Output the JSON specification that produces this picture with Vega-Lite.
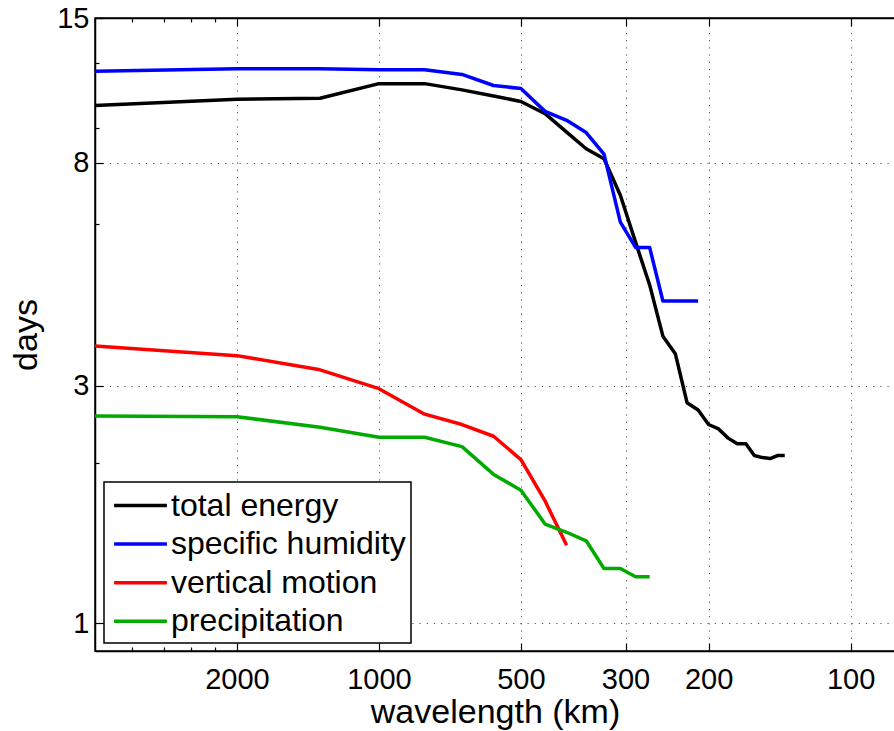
{
  "$schema": "https://vega.github.io/schema/vega-lite/v6.json",
  "autosize": "none",
  "padding": {"left": 95, "top": 18, "right": 0, "bottom": 80},
  "width": 800,
  "height": 633,
  "background": "white",
  "config": {
    "font": "Liberation Sans",
    "view": {"stroke": "black", "strokeWidth": 1.5},
    "axis": {
      "labelFont": "Liberation Sans",
      "titleFont": "Liberation Sans",
      "labelColor": "black",
      "titleColor": "black",
      "titleFontWeight": "normal",
      "domainColor": "black",
      "domainWidth": 1.5,
      "tickColor": "black",
      "tickWidth": 1.2,
      "gridColor": "#555555",
      "gridDash": [1.2, 6],
      "gridWidth": 1
    }
  },
  "data": {
    "values": [
      {"v": "total energy", "wl": 4000, "d": 10.27},
      {"v": "total energy", "wl": 2000, "d": 10.55},
      {"v": "total energy", "wl": 1333.3, "d": 10.60},
      {"v": "total energy", "wl": 1000, "d": 11.29},
      {"v": "total energy", "wl": 800, "d": 11.29},
      {"v": "total energy", "wl": 666.7, "d": 10.99},
      {"v": "total energy", "wl": 571.4, "d": 10.70},
      {"v": "total energy", "wl": 500, "d": 10.45},
      {"v": "total energy", "wl": 444.4, "d": 9.91},
      {"v": "total energy", "wl": 400, "d": 9.15},
      {"v": "total energy", "wl": 363.6, "d": 8.51},
      {"v": "total energy", "wl": 333.3, "d": 8.15},
      {"v": "total energy", "wl": 307.7, "d": 6.95},
      {"v": "total energy", "wl": 285.7, "d": 5.66},
      {"v": "total energy", "wl": 266.7, "d": 4.69},
      {"v": "total energy", "wl": 250, "d": 3.74},
      {"v": "total energy", "wl": 235.3, "d": 3.46},
      {"v": "total energy", "wl": 222.2, "d": 2.78},
      {"v": "total energy", "wl": 210.5, "d": 2.69},
      {"v": "total energy", "wl": 200, "d": 2.52},
      {"v": "total energy", "wl": 190.5, "d": 2.47},
      {"v": "total energy", "wl": 181.8, "d": 2.37},
      {"v": "total energy", "wl": 173.9, "d": 2.31},
      {"v": "total energy", "wl": 166.7, "d": 2.31},
      {"v": "total energy", "wl": 160, "d": 2.19},
      {"v": "total energy", "wl": 153.8, "d": 2.17},
      {"v": "total energy", "wl": 148.1, "d": 2.16},
      {"v": "total energy", "wl": 142.9, "d": 2.19},
      {"v": "total energy", "wl": 137.9, "d": 2.19},
      {"v": "specific humidity", "wl": 4000, "d": 11.91},
      {"v": "specific humidity", "wl": 2000, "d": 12.04},
      {"v": "specific humidity", "wl": 1333.3, "d": 12.04},
      {"v": "specific humidity", "wl": 1000, "d": 11.99},
      {"v": "specific humidity", "wl": 800, "d": 11.99},
      {"v": "specific humidity", "wl": 666.7, "d": 11.75},
      {"v": "specific humidity", "wl": 571.4, "d": 11.20},
      {"v": "specific humidity", "wl": 500, "d": 11.05},
      {"v": "specific humidity", "wl": 444.4, "d": 10.01},
      {"v": "specific humidity", "wl": 400, "d": 9.63},
      {"v": "specific humidity", "wl": 363.6, "d": 9.13},
      {"v": "specific humidity", "wl": 333.3, "d": 8.31},
      {"v": "specific humidity", "wl": 307.7, "d": 6.18},
      {"v": "specific humidity", "wl": 285.7, "d": 5.53},
      {"v": "specific humidity", "wl": 266.7, "d": 5.53},
      {"v": "specific humidity", "wl": 250, "d": 4.37},
      {"v": "specific humidity", "wl": 235.3, "d": 4.37},
      {"v": "specific humidity", "wl": 222.2, "d": 4.37},
      {"v": "specific humidity", "wl": 210.5, "d": 4.37},
      {"v": "vertical motion", "wl": 4000, "d": 3.58},
      {"v": "vertical motion", "wl": 2000, "d": 3.43},
      {"v": "vertical motion", "wl": 1333.3, "d": 3.22},
      {"v": "vertical motion", "wl": 1000, "d": 2.96},
      {"v": "vertical motion", "wl": 800, "d": 2.64},
      {"v": "vertical motion", "wl": 666.7, "d": 2.52},
      {"v": "vertical motion", "wl": 571.4, "d": 2.39},
      {"v": "vertical motion", "wl": 500, "d": 2.15},
      {"v": "vertical motion", "wl": 444.4, "d": 1.78},
      {"v": "vertical motion", "wl": 400, "d": 1.45},
      {"v": "precipitation", "wl": 4000, "d": 2.62},
      {"v": "precipitation", "wl": 2000, "d": 2.61},
      {"v": "precipitation", "wl": 1333.3, "d": 2.49},
      {"v": "precipitation", "wl": 1000, "d": 2.38},
      {"v": "precipitation", "wl": 800, "d": 2.38},
      {"v": "precipitation", "wl": 666.7, "d": 2.28},
      {"v": "precipitation", "wl": 571.4, "d": 2.01},
      {"v": "precipitation", "wl": 500, "d": 1.87},
      {"v": "precipitation", "wl": 444.4, "d": 1.60},
      {"v": "precipitation", "wl": 400, "d": 1.54},
      {"v": "precipitation", "wl": 363.6, "d": 1.48},
      {"v": "precipitation", "wl": 333.3, "d": 1.30},
      {"v": "precipitation", "wl": 307.7, "d": 1.30},
      {"v": "precipitation", "wl": 285.7, "d": 1.25},
      {"v": "precipitation", "wl": 266.7, "d": 1.25}
    ]
  },
  "resolve": {"axis": {"x": "independent", "y": "independent"}},
  "layer": [
    {
      "mark": {"type": "line", "strokeWidth": 3.5, "strokeJoin": "round"},
      "encoding": {
        "x": {
          "field": "wl", "type": "quantitative",
          "scale": {"type": "log", "domain": [4000, 80.5], "nice": false, "zero": false},
          "axis": {
            "orient": "bottom",
            "title": "wavelength (km)",
            "titleFontSize": 34,
            "titlePadding": -3,
            "values": [3333.3, 2857.1, 2500, 2222.2, 2000, 1000, 500, 300, 200, 100],
            "labelExpr": "indexof([2000,1000,500,300,200,100], datum.value) >= 0 ? format(datum.value, 'd') : ''",
            "labelFontSize": 29,
            "labelPadding": 22,
            "labelFlush": false,
            "labelOverlap": false,
            "tickSize": {"condition": {"test": "indexof([2000,1000,500,300,200,100], datum.value) >= 0", "value": -8}, "value": -4},
            "grid": true,
            "gridOpacity": {"condition": {"test": "indexof([2000,1000,500,300,200,100], datum.value) >= 0", "value": 1}, "value": 0}
          }
        },
        "y": {
          "field": "d", "type": "quantitative",
          "scale": {"type": "symlog", "constant": 0.13, "domain": [0.874, 15], "nice": false, "zero": false},
          "axis": {
            "orient": "left",
            "title": "days",
            "titleFontSize": 34,
            "titlePadding": 13,
            "values": [1, 2.12, 3, 6.12, 8, 9.3, 12.37, 15],
            "labelExpr": "indexof([1,3,8,15], datum.value) >= 0 ? format(datum.value, 'd') : ''",
            "labelFontSize": 29,
            "labelPadding": 14,
            "labelFlush": false,
            "labelOverlap": false,
            "tickSize": {"condition": {"test": "indexof([1,3,8,15], datum.value) >= 0", "value": -8}, "value": -4},
            "grid": true,
            "gridOpacity": {"condition": {"test": "indexof([1,3,8,15], datum.value) >= 0", "value": 1}, "value": 0}
          }
        },
        "color": {
          "field": "v", "type": "nominal",
          "scale": {
            "domain": ["total energy", "specific humidity", "vertical motion", "precipitation"],
            "range": ["#000000", "#0000ff", "#ff0000", "#00aa00"]
          },
          "legend": {
            "title": null,
            "orient": "none",
            "legendX": 9,
            "legendY": 464,
            "symbolType": "M-1.6,0H1.6",
            "symbolStrokeWidth": 3.5,
            "symbolSize": 1089,
            "symbolOffset": 13,
            "labelFontSize": 32,
            "labelFont": "Liberation Sans",
            "labelColor": "black",
            "labelOffset": 12,
            "labelLimit": 400,
            "rowPadding": 3.6,
            "padding": 5,
            "strokeColor": "black",
            "fillColor": "white",
            "encode": {"legend": {"update": {"strokeWidth": {"value": 1.5}}}}
          }
        }
      }
    },
    {
      "mark": {"type": "point", "opacity": 0},
      "encoding": {
        "x": {
          "field": "wl", "type": "quantitative",
          "scale": {"type": "log", "domain": [4000, 80.5], "nice": false, "zero": false},
          "axis": {
            "orient": "top",
            "title": null,
            "values": [3333.3, 2857.1, 2500, 2222.2, 2000, 1000, 500, 300, 200, 100],
            "labels": false,
            "grid": false,
            "tickSize": {"condition": {"test": "indexof([2000,1000,500,300,200,100], datum.value) >= 0", "value": -8}, "value": -4}
          }
        },
        "y": {
          "field": "d", "type": "quantitative",
          "scale": {"type": "symlog", "constant": 0.13, "domain": [0.874, 15], "nice": false, "zero": false},
          "axis": null
        }
      }
    }
  ]
}
